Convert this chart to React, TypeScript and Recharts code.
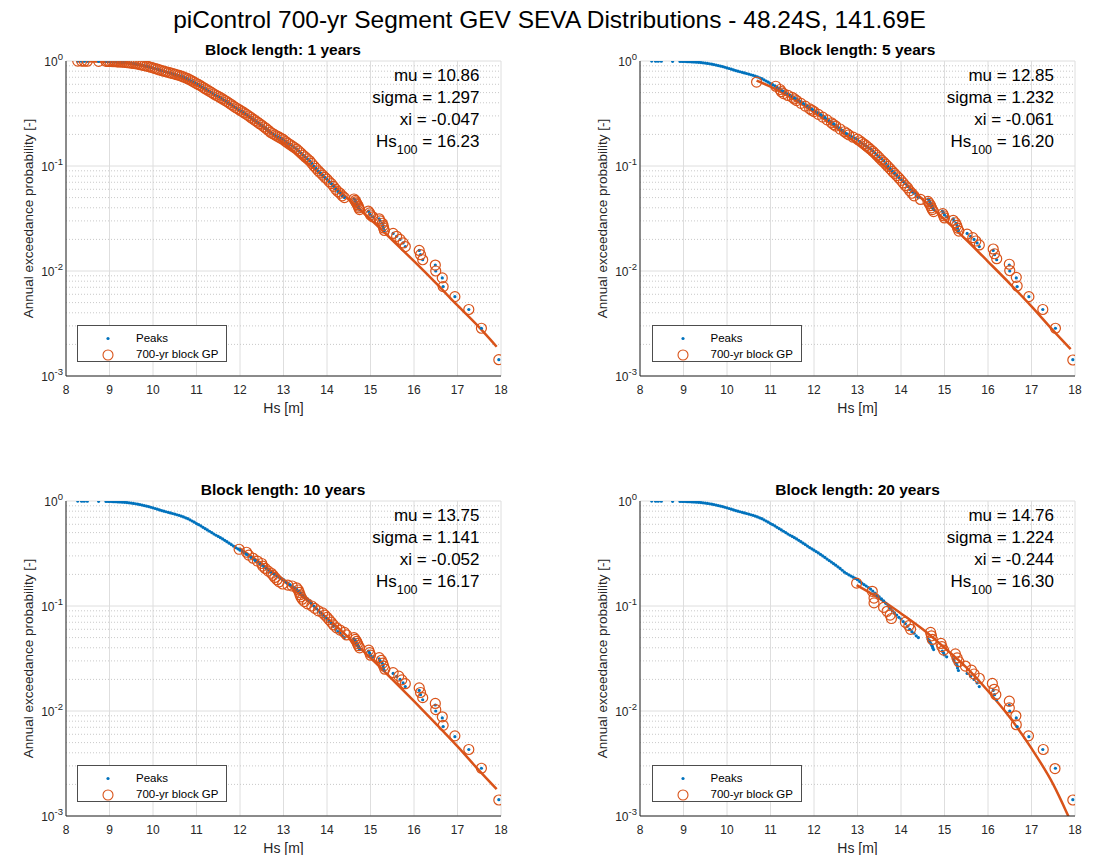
import { ComposedChart, Scatter, Line, XAxis, YAxis, CartesianGrid, ReferenceLine } from 'recharts';

const BLUE = '#0072BD';
const ORANGE = '#D95319';
const INK = '#262626';
const FONT = '"Liberation Sans", Arial, Helvetica, sans-serif';

const figureTitle = 'piControl 700-yr Segment GEV SEVA Distributions - 48.24S, 141.69E';
const blockTitles = ['Block length: 1 years', 'Block length: 5 years', 'Block length: 10 years', 'Block length: 20 years'];
const muValues = ['10.86', '12.85', '13.75', '14.76'];
const sigmaValues = ['1.297', '1.232', '1.141', '1.224'];
const xiValues = ['-0.047', '-0.061', '-0.052', '-0.244'];
const hs100Values = ['16.23', '16.20', '16.17', '16.30'];

const xTicks = [8, 9, 10, 11, 12, 13, 14, 15, 16, 17, 18];
const yTicks = [0.001, 0.01, 0.1, 1];
const yMinor = [0.002, 0.003, 0.004, 0.005, 0.006, 0.007, 0.008, 0.009, 0.02, 0.03, 0.04, 0.05, 0.06, 0.07, 0.08, 0.09, 0.2, 0.3, 0.4, 0.5, 0.6, 0.7, 0.8, 0.9];

// annual peaks [Hs, annual exceedance probability] (same in every panel)
const peaks: [number, number][] = [
  [8.27, 0.9986], [8.36, 0.9971], [8.42, 0.9957], [8.49, 0.9943], [8.75, 0.9929], [8.92, 0.9914], [8.97, 0.99],
  [9.01, 0.9886], [9.06, 0.987], [9.1, 0.9857], [9.14, 0.984], [9.18, 0.982], [9.22, 0.98], [9.26, 0.978],
  [9.3, 0.975], [9.35, 0.971], [9.4, 0.966], [9.45, 0.961], [9.5, 0.955], [9.55, 0.948], [9.6, 0.941],
  [9.65, 0.933], [9.7, 0.925], [9.75, 0.915], [9.8, 0.905], [9.85, 0.895], [9.9, 0.884], [9.95, 0.872],
  [10.0, 0.86], [10.05, 0.848], [10.1, 0.835], [10.15, 0.822], [10.2, 0.81], [10.25, 0.8], [10.3, 0.79],
  [10.35, 0.78], [10.4, 0.77], [10.45, 0.76], [10.5, 0.75], [10.55, 0.74], [10.6, 0.73], [10.65, 0.718],
  [10.7, 0.705], [10.75, 0.692], [10.8, 0.678], [10.85, 0.662], [10.9, 0.645], [10.95, 0.628], [11.0, 0.61],
  [11.05, 0.595], [11.1, 0.58], [11.15, 0.562], [11.2, 0.545], [11.25, 0.53], [11.3, 0.515], [11.35, 0.5],
  [11.4, 0.485], [11.45, 0.472], [11.5, 0.46], [11.55, 0.447], [11.6, 0.435], [11.65, 0.422], [11.7, 0.41],
  [11.75, 0.397], [11.8, 0.385], [11.85, 0.372], [11.9, 0.36], [11.95, 0.35], [12.0, 0.34], [12.05, 0.33],
  [12.1, 0.32], [12.15, 0.31], [12.2, 0.3], [12.25, 0.29], [12.3, 0.28], [12.35, 0.271], [12.4, 0.262],
  [12.45, 0.253], [12.5, 0.245], [12.55, 0.236], [12.6, 0.228], [12.65, 0.219], [12.7, 0.21], [12.75, 0.204],
  [12.8, 0.198], [12.85, 0.193], [12.9, 0.188], [12.95, 0.183], [13.0, 0.178], [13.05, 0.171], [13.1, 0.165],
  [13.15, 0.16], [13.2, 0.155], [13.25, 0.15], [13.3, 0.145], [13.35, 0.139], [13.4, 0.133], [13.45, 0.127],
  [13.5, 0.122], [13.55, 0.117], [13.6, 0.112], [13.65, 0.106], [13.7, 0.1], [13.75, 0.095], [13.8, 0.09],
  [13.85, 0.086], [13.9, 0.082], [13.95, 0.078], [14.0, 0.075], [14.05, 0.071], [14.1, 0.068], [14.15, 0.064],
  [14.2, 0.06], [14.25, 0.057], [14.3, 0.055], [14.35, 0.052], [14.4, 0.05],
  [14.62, 0.0485], [14.65, 0.047], [14.66, 0.0456], [14.68, 0.0442], [14.7, 0.0428], [14.72, 0.0414],
  [14.73, 0.0399], [14.75, 0.0385], [14.95, 0.0371], [14.98, 0.0357], [15.0, 0.0342], [15.05, 0.0328],
  [15.2, 0.0314], [15.22, 0.03], [15.27, 0.0285], [15.29, 0.0271], [15.3, 0.0257], [15.32, 0.0243],
  [15.52, 0.0228], [15.6, 0.0214], [15.68, 0.02], [15.75, 0.0185], [15.8, 0.0171], [16.12, 0.0157],
  [16.15, 0.0143], [16.2, 0.0128], [16.49, 0.0114], [16.5, 0.01], [16.65, 0.0086], [16.67, 0.0071],
  [16.94, 0.0057], [17.26, 0.0043], [17.55, 0.00285], [17.95, 0.00143],
];

// block maxima (700-yr block GP), annual exceedance probability
const gp1: [number, number][] = peaks;
const gp5: [number, number][] = [
  [10.68, 0.63], [11.12, 0.575], [11.22, 0.535], [11.25, 0.51], [11.3, 0.49], [11.4, 0.47], [11.5, 0.45],
  [11.55, 0.435], [11.6, 0.42], [11.7, 0.395], [11.8, 0.372], [11.9, 0.35], [11.95, 0.34], [12.0, 0.33],
  [12.1, 0.31], [12.2, 0.292], [12.3, 0.275], [12.4, 0.258], [12.45, 0.248], [12.5, 0.24], [12.6, 0.225],
  [12.7, 0.212], [12.75, 0.205], [12.8, 0.198], [12.9, 0.188], [13.0, 0.18], [13.05, 0.174], [13.1, 0.168],
  [13.15, 0.162], [13.2, 0.156], [13.25, 0.15], [13.3, 0.144], [13.35, 0.138], [13.4, 0.132], [13.45, 0.126],
  [13.5, 0.12], [13.55, 0.114], [13.6, 0.109], [13.65, 0.104], [13.7, 0.099], [13.75, 0.094], [13.8, 0.089],
  [13.85, 0.085], [13.9, 0.081], [13.95, 0.077], [14.0, 0.073], [14.05, 0.069], [14.1, 0.065], [14.15, 0.062],
  [14.2, 0.058], [14.25, 0.055], [14.3, 0.052], [14.45, 0.048], [14.62, 0.046], [14.65, 0.044], [14.68, 0.042],
  [14.7, 0.04], [14.72, 0.0384], [14.75, 0.0368], [14.96, 0.0352], [14.98, 0.0336], [15.0, 0.032], [15.2, 0.0304],
  [15.25, 0.0288], [15.28, 0.0272], [15.3, 0.0256], [15.33, 0.024], [15.52, 0.0224], [15.65, 0.0208],
  [15.72, 0.0193], [15.8, 0.0177], [16.12, 0.0162], [16.15, 0.0146], [16.2, 0.0131], [16.49, 0.0116],
  [16.5, 0.0101], [16.65, 0.0087], [16.67, 0.0072], [16.94, 0.0057], [17.26, 0.0043], [17.55, 0.00285],
  [17.95, 0.00142],
];
const gp10: [number, number][] = [
  [11.98, 0.347], [12.15, 0.325], [12.2, 0.305], [12.3, 0.285], [12.4, 0.268], [12.5, 0.254], [12.52, 0.24],
  [12.58, 0.228], [12.65, 0.215], [12.72, 0.205], [12.76, 0.196], [12.8, 0.187], [12.85, 0.178], [12.9, 0.17],
  [12.98, 0.162], [13.1, 0.158], [13.2, 0.155], [13.3, 0.149], [13.34, 0.142], [13.36, 0.135], [13.38, 0.128],
  [13.4, 0.122], [13.43, 0.116], [13.48, 0.11], [13.55, 0.105], [13.65, 0.1], [13.72, 0.095], [13.8, 0.09],
  [13.9, 0.086], [13.95, 0.082], [14.0, 0.078], [14.05, 0.074], [14.1, 0.07], [14.15, 0.066], [14.22, 0.062],
  [14.3, 0.059], [14.4, 0.056], [14.45, 0.053], [14.62, 0.05], [14.65, 0.048], [14.68, 0.046], [14.7, 0.044],
  [14.72, 0.042], [14.75, 0.04], [14.96, 0.038], [14.98, 0.036], [15.0, 0.034], [15.2, 0.0322], [15.25, 0.0304],
  [15.28, 0.0286], [15.3, 0.0268], [15.33, 0.025], [15.52, 0.0232], [15.65, 0.0215], [15.72, 0.0198],
  [15.8, 0.0182], [16.12, 0.0166], [16.15, 0.015], [16.2, 0.0134], [16.49, 0.0118], [16.5, 0.0103],
  [16.65, 0.0088], [16.67, 0.0073], [16.94, 0.0058], [17.26, 0.0043], [17.55, 0.00285], [17.95, 0.00142],
];
const gp20: [number, number][] = [
  [12.98, 0.165], [13.34, 0.138], [13.38, 0.119], [13.38, 0.107], [13.6, 0.097], [13.68, 0.089], [13.75, 0.082],
  [13.78, 0.076], [14.1, 0.07], [14.18, 0.065], [14.22, 0.06], [14.68, 0.056], [14.7, 0.052], [14.72, 0.048],
  [14.92, 0.044], [14.94, 0.041], [14.98, 0.038], [15.25, 0.035], [15.29, 0.032], [15.33, 0.0295],
  [15.48, 0.0268], [15.62, 0.0245], [15.68, 0.0225], [15.8, 0.0205], [16.1, 0.0183], [16.14, 0.0161],
  [16.18, 0.0143], [16.49, 0.0124], [16.49, 0.0107], [16.64, 0.009], [16.65, 0.0074], [16.93, 0.0058],
  [17.27, 0.0043], [17.54, 0.00283], [17.95, 0.00142],
];

// fitted GEV curves, annual exceedance probability
const fit1: [number, number][] = [
  [8.25, 0.999], [8.5, 0.997], [9, 0.982], [9.5, 0.938], [10, 0.854], [10.5, 0.732], [11, 0.592], [11.5, 0.455],
  [12, 0.335], [12.5, 0.238], [13, 0.165], [13.5, 0.111], [14, 0.074], [14.5, 0.048], [15, 0.031], [15.5, 0.0197],
  [16, 0.0124], [16.5, 0.0077], [17, 0.0047], [17.5, 0.0029], [17.9, 0.0019],
];
const fit5: [number, number][] = [
  [10.68, 0.65], [11, 0.569], [11.5, 0.439], [12, 0.325], [12.5, 0.233], [13, 0.162], [13.5, 0.11], [14, 0.074],
  [14.5, 0.048], [15, 0.031], [15.5, 0.0198], [16, 0.0123], [16.5, 0.0076], [17, 0.0046], [17.5, 0.0027], [17.9, 0.0018],
];
const fit10: [number, number][] = [
  [11.98, 0.356], [12.5, 0.252], [13, 0.174], [13.5, 0.117], [14, 0.077], [14.5, 0.05], [15, 0.032], [15.5, 0.02],
  [16, 0.0124], [16.5, 0.0076], [17, 0.0046], [17.5, 0.0027], [17.9, 0.0018],
];
const fit20: [number, number][] = [
  [12.98, 0.158], [13.5, 0.118], [14, 0.085], [14.5, 0.06], [15, 0.04], [15.5, 0.026], [16, 0.0155], [16.5, 0.0087],
  [17, 0.0044], [17.5, 0.002], [17.8, 0.0011], [17.95, 0.0008],
];

const gpSeries = [gp1, gp5, gp10, gp20];
const fitSeries = [fit1, fit5, fit10, fit20];

const toPoints = (arr: [number, number][]) => arr.map(([hs, p]) => ({ hs, p }));

const PLOT_W = 435;
const PLOT_H = 315;
const AXIS_W = 60;
const TOP_PAD = 20;
const RIGHT_PAD = 20;
const X_AXIS_H = 45;
const plotOrigins = [
  { left: 65.5, top: 61 },
  { left: 640, top: 61 },
  { left: 65.5, top: 501 },
  { left: 640, top: 501 },
];

const LogTick = (props: any) => {
  const { x, y, payload } = props;
  const exp = Math.round(Math.log10(payload.value));
  return (
    <text x={x} y={y} dy="0.38em" textAnchor="end" fill={INK} fontSize={12} fontFamily={FONT}>
      10<tspan dy="-0.55em" fontSize={9.5}>{exp}</tspan>
    </text>
  );
};

const dotShape = (props: any) => <circle cx={props.cx} cy={props.cy} r={1.6} fill={BLUE} />;
const ringShape = (props: any) => (
  <circle cx={props.cx} cy={props.cy} r={5} fill="none" stroke={ORANGE} strokeWidth={1.2} />
);

const LegendBox = ({ left, top }: { left: number; top: number }) => (
  <div
    style={{
      position: 'absolute', left: left + 11.5, top: top + 264, width: 150, height: 37,
      border: '1px solid #4d4d4d', background: '#fff', boxSizing: 'border-box',
      fontFamily: FONT, fontSize: 11.5, color: '#000',
    }}
  >
    <svg width={40} height={36} style={{ position: 'absolute', left: 10, top: 0 }}>
      <circle cx={20} cy={12.5} r={1.6} fill={BLUE} />
      <circle cx={20} cy={29} r={5} fill="none" stroke={ORANGE} strokeWidth={1.1} />
    </svg>
    <div style={{ position: 'absolute', left: 58, top: 5, lineHeight: '14px' }}>Peaks</div>
    <div style={{ position: 'absolute', left: 58, top: 21, lineHeight: '14px' }}>700-yr block GP</div>
  </div>
);

const Panel = ({ idx }: { idx: number }) => {
  const { left, top } = plotOrigins[idx];
  return (
    <>
      <div
        style={{
          position: 'absolute', left, top: top - 20, width: PLOT_W, textAlign: 'center',
          fontFamily: FONT, fontSize: 15.5, fontWeight: 'bold', lineHeight: '18px', color: '#000',
        }}
      >
        {blockTitles[idx]}
      </div>
      <div style={{ position: 'absolute', left: left - AXIS_W, top: top - TOP_PAD }}>
        <ComposedChart
          width={AXIS_W + PLOT_W + RIGHT_PAD}
          height={TOP_PAD + PLOT_H + X_AXIS_H}
          margin={{ top: TOP_PAD, right: RIGHT_PAD, bottom: 0, left: 0 }}
        >
          <CartesianGrid stroke="#dedede" />
          {yMinor.map((v) => (
            <ReferenceLine key={v} y={v} stroke="#c9c9c9" strokeDasharray="1 2" />
          ))}
          <XAxis
            dataKey="hs"
            type="number"
            domain={[8, 18]}
            ticks={xTicks}
            allowDataOverflow
            height={X_AXIS_H}
            tickLine={false}
            tickSize={6}
            tickMargin={3}
            axisLine={{ stroke: INK }}
            tick={{ fill: INK, fontSize: 12, fontFamily: FONT }}
            label={{ value: 'Hs [m]', position: 'insideBottom', offset: 8, fill: INK, fontSize: 14, fontFamily: FONT }}
          />
          <XAxis
            xAxisId="top"
            orientation="top"
            type="number"
            domain={[8, 18]}
            ticks={xTicks}
            height={0}
            mirror
            tick={false}
            tickSize={4}
            axisLine={{ stroke: INK }}
            tickLine={{ stroke: INK }}
          />
          <YAxis
            dataKey="p"
            type="number"
            scale="log"
            domain={[0.001, 1]}
            ticks={yTicks}
            allowDataOverflow
            width={AXIS_W}
            tickLine={false}
            tickSize={3}
            tickMargin={0}
            axisLine={{ stroke: INK }}
            tick={<LogTick />}
            label={{
              value: 'Annual exceedance probability [-]', angle: -90, position: 'insideLeft', offset: 22,
              fill: INK, fontSize: 13.5, fontFamily: FONT, style: { textAnchor: 'middle' },
            }}
          />
          <YAxis
            yAxisId="right"
            orientation="right"
            type="number"
            scale="log"
            domain={[0.001, 1]}
            ticks={yTicks}
            width={0}
            mirror
            tick={false}
            tickSize={4}
            axisLine={{ stroke: INK }}
            tickLine={{ stroke: INK }}
          />
          <Scatter data={toPoints(peaks)} dataKey="p" shape={dotShape} isAnimationActive={false} />
          <Scatter data={toPoints(gpSeries[idx])} dataKey="p" shape={ringShape} isAnimationActive={false} />
          <Line
            data={toPoints(fitSeries[idx])}
            dataKey="p"
            type="monotone"
            stroke={ORANGE}
            strokeWidth={2.5}
            dot={false}
            activeDot={false}
            isAnimationActive={false}
          />
        </ComposedChart>
      </div>
      <div
        style={{
          position: 'absolute', left, top: top + 4, width: PLOT_W - 21, textAlign: 'right',
          fontFamily: FONT, fontSize: 17, lineHeight: '22px', color: '#000',
        }}
      >
        <div>mu = {muValues[idx]}</div>
        <div>sigma = {sigmaValues[idx]}</div>
        <div>xi = {xiValues[idx]}</div>
        <div>
          Hs<span style={{ fontSize: 12.5, position: 'relative', top: 7 }}>100</span> = {hs100Values[idx]}
        </div>
      </div>
      <LegendBox left={left} top={top} />
    </>
  );
};

export default function App() {
  return (
    <div style={{ position: 'absolute', left: 0, top: 0, width: 1099, height: 855, background: '#fff' }}>
      <div
        style={{
          position: 'absolute', left: 0, top: 6, width: 1099, textAlign: 'center',
          fontFamily: FONT, fontSize: 24.5, lineHeight: '28px', color: '#000',
        }}
      >
        {figureTitle}
      </div>
      {[0, 1, 2, 3].map((i) => (
        <Panel key={i} idx={i} />
      ))}
    </div>
  );
}
